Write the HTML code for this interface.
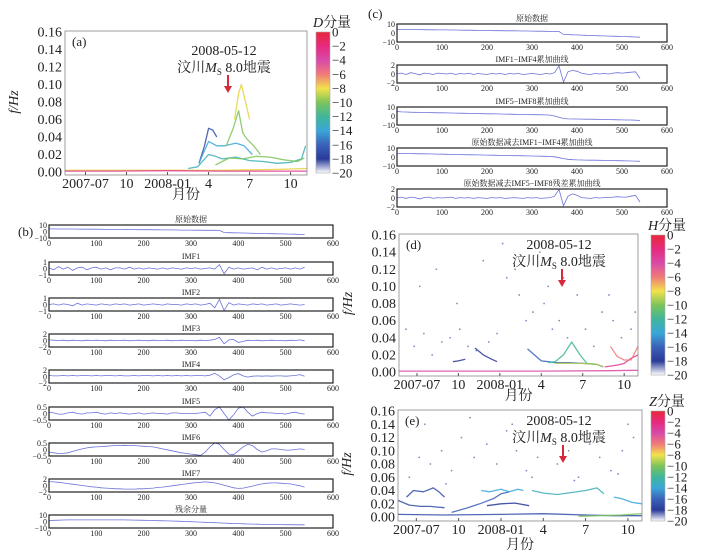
<!DOCTYPE html>
<html><head><meta charset="utf-8">
<style>
html,body{margin:0;padding:0;background:#fff;}
svg{display:block;}
text{font-family:"Liberation Serif","Noto Serif CJK SC",serif;fill:#222;}
</style></head>
<body>
<svg id="fig" width="711" height="555" viewBox="0 0 711 555" xmlns="http://www.w3.org/2000/svg">
<defs>
<linearGradient id="cmap" x1="0" y1="0" x2="0" y2="1">
<stop offset="0" stop-color="#e8283a"/>
<stop offset="0.1" stop-color="#e62a7e"/>
<stop offset="0.2" stop-color="#d84aa8"/>
<stop offset="0.3" stop-color="#f07a78"/>
<stop offset="0.4" stop-color="#f2e24a"/>
<stop offset="0.5" stop-color="#7cc45a"/>
<stop offset="0.6" stop-color="#3fb69a"/>
<stop offset="0.7" stop-color="#3aa6d8"/>
<stop offset="0.8" stop-color="#3a62b8"/>
<stop offset="0.9" stop-color="#2a3a98"/>
<stop offset="1" stop-color="#ffffff"/>
</linearGradient>
</defs>
</svg>
<script>
// ---------- data ----------
const idxStep = 10; // sample index spacing
const xTicksTS = [0,100,200,300,400,500,600];
const rawData = [4,4,3.9,3.9,3.8,3.8,3.7,3.6,3.6,3.5,3.5,3.4,3.3,3.3,3.2,3.1,3.1,3.0,2.9,2.8,2.8,2.7,2.6,2.6,2.5,2.4,2.4,2.3,2.2,2.2,2.1,2.0,2.0,1.9,1.8,1.8,1.7,-1.5,-1.8,-2,-2.1,-2.3,-2.5,-2.7,-2.9,-3.1,-3.2,-3.4,-3.6,-3.7,-3.9,-4.0,-4.2,-4.4,-4.7];
const imf1Data = [0.1,-0.2,0.3,-0.1,0.2,-0.3,0.1,0.2,-0.2,0.1,0.2,-0.1,0.1,-0.2,0.1,0.1,-0.1,0.2,-0.1,0.1,-0.1,0.1,0.0,-0.1,0.1,-0.1,0.1,0.0,-0.1,0.1,0.0,0.1,-0.1,0.0,0.1,-0.1,0.6,-0.8,0.2,-0.1,0.1,-0.1,0.0,0.1,-0.2,0.2,-0.1,0.1,-0.1,0.0,0.1,-0.1,0.1,-0.1,0.2];
const imf2Data = [0.0,0.1,-0.1,0.1,0.0,-0.2,0.2,-0.1,0.1,0.0,-0.1,0.1,0.0,-0.1,0.1,0.0,0.1,-0.1,0.0,0.1,-0.1,0.0,0.1,0.0,-0.1,0.1,0.0,0.0,-0.1,0.1,0.0,0.1,-0.1,0.0,0.2,-0.5,0.8,-0.9,0.3,-0.1,0.1,0.0,-0.1,0.1,0.0,0.1,-0.1,0.0,0.1,-0.1,0.0,0.1,0.0,-0.1,0.0];
const imf3Data = [0.2,0.1,0.0,0.1,-0.1,0.1,0.0,-0.1,0.1,0.0,0.1,0.0,-0.1,0.1,0.0,0.0,0.1,-0.1,0.0,0.1,0.0,-0.1,0.1,0.0,0.0,0.1,-0.1,0.0,0.1,0.0,0.0,-0.1,0.1,0.0,0.1,0.3,1.0,-1.0,0.2,0.3,-0.6,-0.3,0.1,0.0,0.1,-0.1,0.0,0.1,0.0,0.0,-0.1,0.1,0.0,0.2,-0.1];
const imf4Data = [0.3,0.2,0.2,0.3,0.2,0.3,0.2,0.3,0.3,0.2,0.3,0.2,0.3,0.3,0.2,0.3,0.2,0.2,0.3,0.2,0.3,0.3,0.2,0.3,0.2,0.3,0.2,0.3,0.2,0.3,0.2,0.3,0.3,0.2,0.4,1.0,0.2,-1.0,-0.3,0.5,0.9,0.2,-0.2,0.1,0.2,0.1,0.2,0.1,0.2,0.2,0.1,0.2,0.3,0.6,0.1];
const imf5Data = [0.1,0.05,-0.05,-0.05,0.05,0.1,0.0,-0.05,0.05,0.05,0.1,0.0,-0.05,0.05,0.0,0.05,0.0,-0.05,0.0,0.05,-0.05,0.0,0.05,0.0,0.0,-0.05,0.05,0.05,0.0,0.0,0.0,0.0,0.05,0.1,-0.2,0.3,0.5,0.0,-0.5,-0.1,0.4,0.5,0.1,-0.2,0.0,0.1,0.05,0.05,0.0,0.0,-0.05,0.05,0.1,0.0,-0.05];
const imf6Data = [-0.2,-0.25,-0.3,-0.3,-0.25,-0.15,-0.05,0.05,0.12,0.18,0.2,0.22,0.25,0.28,0.3,0.3,0.32,0.3,0.3,0.28,0.25,0.22,0.2,0.12,0.05,-0.02,-0.1,-0.18,-0.25,-0.3,-0.35,-0.4,-0.45,-0.2,0.2,0.5,0.4,0.0,-0.35,-0.4,-0.1,0.2,0.4,0.3,0.0,-0.2,-0.1,0.05,0.05,0.0,-0.05,-0.05,0.0,0.05,0.0];
const imf7Data = [1.2,1.1,1.0,0.8,0.6,0.4,0.2,0.0,-0.2,-0.4,-0.5,-0.7,-0.8,-0.9,-1.0,-1.0,-1.1,-1.1,-1.1,-1.0,-1.0,-0.9,-0.8,-0.6,-0.5,-0.3,-0.1,0.1,0.3,0.5,0.7,0.9,1.0,1.1,1.0,0.8,0.5,0.1,-0.3,-0.7,-0.9,-0.8,-0.5,-0.2,0.2,0.5,0.7,0.8,0.8,0.7,0.6,0.5,0.2,-0.1,-0.5];
const residData = [1.5,1.8,2.0,2.3,2.5,2.5,2.5,2.5,2.5,2.5,2.5,2.5,2.5,2.5,2.5,2.4,2.4,2.3,2.1,2.0,1.9,1.7,1.5,1.3,1.1,0.9,0.7,0.5,0.3,0.0,-0.3,-0.6,-0.9,-1.2,-1.5,-1.8,-2.1,-2.4,-2.7,-3.0,-3.3,-3.6,-3.8,-4.0,-4.2,-4.4,-4.5,-4.6,-4.7,-4.8,-4.9,-4.9,-5.0,-5.0,-5.0];
const sum14Data = [0.1,0.2,-0.1,0.3,0.1,-0.2,0.2,0.1,-0.1,0.2,0.1,0.0,0.2,-0.1,0.1,0.0,0.2,-0.1,0.1,0.0,-0.1,0.1,0.0,0.1,-0.1,0.1,0.0,0.1,-0.1,0.0,0.1,0.0,-0.1,0.1,0.0,0.3,1.8,-1.8,0.5,0.8,0.6,0.2,0.0,-0.1,0.1,0.0,0.1,0.0,0.2,0.3,0.2,0.3,0.4,0.5,-1.0];
const sum58Data = [5,4.6,4.4,4.2,4.1,4.0,3.9,3.8,3.7,3.6,3.5,3.4,3.3,3.2,3.1,3.0,2.9,2.8,2.7,2.6,2.5,2.4,2.3,2.2,2.1,2.0,1.9,1.8,1.7,1.6,1.5,1.4,1.3,1.2,1.0,0.0,-1.5,-2.8,-3.2,-3.3,-3.3,-3.4,-3.5,-3.6,-3.7,-3.8,-3.9,-4.0,-4.1,-4.2,-4.3,-4.4,-4.5,-4.7,-5.0];
const rawMinus14Data = [4,4,3.9,3.8,3.7,3.6,3.5,3.4,3.3,3.2,3.1,3.0,2.9,2.8,2.7,2.6,2.5,2.4,2.3,2.2,2.1,2.0,1.9,1.8,1.7,1.6,1.5,1.4,1.3,1.2,1.1,1.0,0.9,0.8,0.6,0.2,-0.8,-1.8,-2.6,-3.0,-3.2,-3.3,-3.4,-3.5,-3.6,-3.7,-3.8,-3.9,-4.0,-4.1,-4.2,-4.3,-4.4,-4.6,-4.8];
const rawMinus58Data = [0.0,0.2,-0.1,0.2,0.1,-0.2,0.1,0.2,-0.1,0.1,0.0,0.1,0.2,-0.1,0.1,0.0,0.1,-0.1,0.1,0.0,-0.1,0.1,0.0,0.1,-0.1,0.0,0.1,0.0,-0.1,0.1,0.0,0.1,-0.1,0.0,0.1,0.4,1.9,-1.7,0.4,0.9,0.6,0.1,0.0,-0.1,0.1,0.0,0.1,0.1,0.2,0.3,0.2,0.2,0.4,0.6,-0.9];

// spectrogram axis data
const freqTicks = [0,0.02,0.04,0.06,0.08,0.10,0.12,0.14,0.16];
const monthTickVals = [6,9,12,15,18,21];
const monthTickLabels = ["2007-07","10","2008-01","4","7","10"];
const cbarTicks = [0,-2,-4,-6,-8,-10,-12,-14,-16,-18,-20];

// panel (a) curves: months, freqs, level (dB)
const aM1 = [14.3,14.7,15.0,15.3,15.6];        const aF1 = [0.01,0.03,0.05,0.048,0.04];   const aL1 = -17;
const aM2 = [13.5,14.2,15.0,15.5,16,17,18,19,20,21,21.8,22.1]; const aF2 = [0.004,0.006,0.02,0.018,0.015,0.017,0.013,0.012,0.01,0.011,0.015,0.03]; const aL2 = -13;
const aM3 = [14.3,15.0,15.6,16.2,17.0,17.6,18.2]; const aF3 = [0.01,0.035,0.03,0.03,0.033,0.03,0.02]; const aL3 = -14;
const aM4 = [15.5,16.5,17.5,18.5,19.5,20.5,21.5,22.0]; const aF4 = [0.008,0.016,0.015,0.018,0.017,0.014,0.012,0.016]; const aL4 = -10;
const aM5 = [16.3,16.8,17.2,17.5,17.8,18.3,18.8]; const aF5 = [0.03,0.05,0.07,0.045,0.038,0.03,0.02]; const aL5 = -10;
const aM6 = [16.9,17.2,17.4,17.7,18.0]; const aF6 = [0.06,0.09,0.1,0.08,0.06]; const aL6 = -8;
const aM7 = [4.5,8,12,16,20,22.2]; const aF7 = [0.002,0.002,0.002,0.002,0.003,0.004]; const aL7 = -8;
const aM8 = [4.5,8,12,16,20,22.2]; const aF8 = [0.001,0.001,0.0015,0.001,0.001,0.001]; const aL8 = -3;

// panel (d) curves
const dM1 = [14.0,14.5,15.0,15.5,16,17,18,19,19.5]; const dF1 = [0.027,0.02,0.013,0.012,0.011,0.011,0.01,0.009,0.006]; const dL1 = -16;
const dM2 = [15.5,16,16.6,17.2,17.8,18.3,19]; const dF2 = [0.011,0.012,0.02,0.035,0.02,0.01,0.009]; const dL2 = -12;
const dM3 = [16,17,18,19,19.5]; const dF3 = [0.01,0.01,0.01,0.009,0.006]; const dL3 = -9;
const dM4 = [19.6,20.5,21,21.5,22.0]; const dF4 = [0.006,0.008,0.01,0.016,0.02]; const dL4 = -3;
const dM5 = [20.0,20.5,21,21.5,22.0]; const dF5 = [0.03,0.018,0.014,0.014,0.03]; const dL5 = -6;
const dM6 = [10.2,10.8,11.4,11.8]; const dF6 = [0.028,0.02,0.015,0.012]; const dL6 = -18;
const dM7 = [4.7,10,15,20,22]; const dF7 = [0.001,0.001,0.001,0.0015,0.002]; const dL7 = -4;
const dM8 = [8.6,9.0,9.5]; const dF8 = [0.012,0.013,0.015]; const dL8 = -18;

// panel (e) curves
const eM1 = [4.7,5.5,6.3,7.0,7.5,8.0]; const eF1 = [0.025,0.018,0.016,0.016,0.015,0.014]; const eL1 = -17;
const eM2 = [5.3,5.8,6.5,7.2,7.6,8.0]; const eF2 = [0.03,0.04,0.038,0.044,0.038,0.03]; const eL2 = -17;
const eM3 = [8.5,9.5,10.5,11.5,12,12.6]; const eF3 = [0.007,0.013,0.02,0.028,0.035,0.038]; const eL3 = -16;
const eM4 = [10.6,11.2,12.0,12.6,13.2,13.6]; const eF4 = [0.04,0.038,0.042,0.038,0.042,0.04]; const eL4 = -14;
const eM5 = [11.0,12.0,13.0,14.0]; const eF5 = [0.017,0.02,0.021,0.017]; const eL5 = -18;
const eM6 = [14.2,15,16,17,18,18.8,19.3]; const eF6 = [0.04,0.036,0.034,0.037,0.04,0.044,0.035]; const eL6 = -13;
const eM7 = [4.7,8,12,15,18,20,22]; const eF7 = [0.004,0.003,0.004,0.005,0.003,0.002,0.002]; const eL7 = -17;
const eM8 = [20.0,20.5,21.3,22.0]; const eF8 = [0.03,0.028,0.022,0.02]; const eL8 = -14;
const eM9 = [17.5,19,20.5,22]; const eF9 = [0.001,0.002,0.003,0.005]; const eL9 = -10;

// scattered points (month, freq)
const dDotsM = [5.2,5.8,6.5,7.1,7.8,8.4,9.1,9.7,10.3,11.2,11.8,12.5,13.4,13.9,14.4,15.2,15.8,16.3,16.9,17.6,18.2,18.8,19.4,20.2,20.8,21.5,6.2,8.9,10.8,13.1,14.9,16.6,18.5,21.8,7.4,12.2,15.5,19.9];
const dDotsF = [0.05,0.03,0.045,0.02,0.035,0.04,0.05,0.03,0.025,0.035,0.045,0.11,0.09,0.06,0.07,0.08,0.05,0.06,0.04,0.09,0.05,0.03,0.07,0.06,0.04,0.05,0.1,0.08,0.13,0.12,0.14,0.11,0.13,0.07,0.12,0.15,0.1,0.09];
const eDotsM = [5.5,6.2,7.0,7.8,8.5,9.2,10.1,11.0,11.7,12.4,13.1,13.8,14.6,15.3,16.0,16.8,17.5,18.3,19.0,19.8,20.6,21.4,6.6,9.8,12.8,15.9,18.9,21.0,8.1,14.2,17.2,20.3];
const eDotsF = [0.06,0.09,0.08,0.1,0.07,0.12,0.09,0.11,0.08,0.13,0.1,0.07,0.09,0.12,0.08,0.1,0.06,0.11,0.09,0.07,0.1,0.12,0.14,0.15,0.14,0.15,0.13,0.14,0.05,0.06,0.055,0.065];

// ---------- drawing ----------
const NS = "http://www.w3.org/2000/svg";
const svg = document.getElementById("fig");
function mk(tag, attrs, parent){
  const e = document.createElementNS(NS, tag);
  for (const k in attrs) e.setAttribute(k, attrs[k]);
  (parent || svg).appendChild(e);
  return e;
}
function txt(s, x, y, size, anchor, parent){
  const t = mk("text", {x:x, y:y, "font-size":size, "text-anchor":anchor||"start"}, parent);
  t.textContent = s;
  return t;
}
function levelColor(l){
  const stops = [[0,[232,40,58]],[-2,[230,42,126]],[-4,[216,74,168]],[-6,[240,122,120]],[-8,[230,210,60]],[-10,[124,196,90]],[-12,[63,182,154]],[-14,[58,166,216]],[-16,[58,98,184]],[-18,[42,58,152]],[-20,[200,200,230]]];
  for (let i=0;i<stops.length-1;i++){
    const a=stops[i], b=stops[i+1];
    if (l<=a[0] && l>=b[0]){
      const t=(a[0]-l)/(a[0]-b[0]);
      const c=a[1].map((v,j)=>Math.round(v+(b[1][j]-v)*t));
      return "rgb("+c.join(",")+")";
    }
  }
  return "#888";
}

// time-series panel
function tsPanel(box, yMin, yMax, yLabels, data, title, name){
  const g = mk("g", {});
  
  
  const xS = v => box.x0 + (v/600)*(box.x1-box.x0);
  const yS = v => box.y1 - (v-yMin)/(yMax-yMin)*(box.y1-box.y0);
  const tt = txt(title, (box.x0+box.x1)/2, box.y0-3, 8, "middle", g);
  
  
  const pts = data.map((v,i)=> xS(i*idxStep).toFixed(1)+","+yS(v).toFixed(1)).join(" ");
  const pl = mk("polyline", {points:pts, fill:"none", stroke:"#6a72d8", "stroke-width":0.8}, g);
  
  
  const fr = mk("rect", {x:box.x0, y:box.y0, width:box.x1-box.x0, height:box.y1-box.y0, fill:"none", stroke:"#222", "stroke-width":1.2}, g);
  
  
  xTicksTS.forEach(v=>{
    const t = txt(String(v), xS(v), box.y1+8, 8, "middle", g);
    
    
  });
  const ys = [yMax, 0, yMin];
  yLabels.forEach((s,i)=>{
    const t = txt(s, box.x0-2, yS(ys[i])+3, 8, "end", g);
    
    
  });
}

// panel (b)
const bX0 = 49, bX1 = 333, bH = 13;
const bTops = [225,262,298,334,370,407,443,479,515];
tsPanel({x0:bX0,x1:bX1,y0:bTops[0],y1:bTops[0]+bH}, -10,10,["10","0","−10"], rawData, "原始数据", "b-raw");
tsPanel({x0:bX0,x1:bX1,y0:bTops[1],y1:bTops[1]+bH}, -1,1,["1","0","−1"], imf1Data, "IMF1", "b-imf1");
tsPanel({x0:bX0,x1:bX1,y0:bTops[2],y1:bTops[2]+bH}, -1,1,["1","0","−1"], imf2Data, "IMF2", "b-imf2");
tsPanel({x0:bX0,x1:bX1,y0:bTops[3],y1:bTops[3]+bH}, -2,2,["2","0","−2"], imf3Data, "IMF3", "b-imf3");
tsPanel({x0:bX0,x1:bX1,y0:bTops[4],y1:bTops[4]+bH}, -2,2,["2","0","−2"], imf4Data, "IMF4", "b-imf4");
tsPanel({x0:bX0,x1:bX1,y0:bTops[5],y1:bTops[5]+bH}, -0.5,0.5,["0.5","0","−0.5"], imf5Data, "IMF5", "b-imf5");
tsPanel({x0:bX0,x1:bX1,y0:bTops[6],y1:bTops[6]+bH}, -0.5,0.5,["0.5","0","−0.5"], imf6Data, "IMF6", "b-imf6");
tsPanel({x0:bX0,x1:bX1,y0:bTops[7],y1:bTops[7]+bH}, -2,2,["2","0","−2"], imf7Data, "IMF7", "b-imf7");
tsPanel({x0:bX0,x1:bX1,y0:bTops[8],y1:bTops[8]+bH}, -10,10,["10","0","−10"], residData, "残余分量", "b-residual");

// panel (c)
const cX0 = 397, cX1 = 667, cH = 18;
const cTops = [24,65,107,148,189];
tsPanel({x0:cX0,x1:cX1,y0:cTops[0],y1:cTops[0]+cH}, -10,10,["10","0","−10"], rawData, "原始数据", "c-raw");
tsPanel({x0:cX0,x1:cX1,y0:cTops[1],y1:cTops[1]+cH}, -2,2,["2","0","−2"], sum14Data, "IMF1−IMF4累加曲线", "c-imf1-4");
tsPanel({x0:cX0,x1:cX1,y0:cTops[2],y1:cTops[2]+cH}, -10,10,["10","0","−10"], sum58Data, "IMF5−IMF8累加曲线", "c-imf5-8");
tsPanel({x0:cX0,x1:cX1,y0:cTops[3],y1:cTops[3]+cH}, -10,10,["10","0","−10"], rawMinus14Data, "原始数据减去IMF1−IMF4累加曲线", "c-raw-minus-1-4");
tsPanel({x0:cX0,x1:cX1,y0:cTops[4],y1:cTops[4]+cH}, -2,2,["2","0","−2"], rawMinus58Data, "原始数据减去IMF5−IMF8残差累加曲线", "c-raw-minus-5-8");

// spectrogram panel
function specPanel(o){
  const g = mk("g", {});
  
  
  const xS = m => o.x0 + (m-o.m0)/(o.m1-o.m0)*(o.x1-o.x0);
  const yS = f => o.yZero - f/0.16*(o.yZero-o.yTop);
  const bg = mk("rect", {x:o.x0, y:o.yTop-1, width:o.x1-o.x0, height:o.yBot-o.yTop+1, fill:"#ffffff"}, g);
  
  
  (o.dotsM||[]).forEach((m,i)=>{
    const c = mk("circle", {cx:xS(m), cy:yS(o.dotsF[i]), r:0.9, fill:"#8a88c0"}, g);
    
    
  });
  o.curves.forEach((c,ci)=>{
    const pts = c[0].map((m,i)=> xS(m).toFixed(1)+","+yS(c[1][i]).toFixed(1)).join(" ");
    const pl = mk("polyline", {points:pts, fill:"none", stroke:levelColor(c[2]), "stroke-width":1.3, "stroke-opacity":0.85, "stroke-linejoin":"round"}, g);
    
    
  });
  const fr = mk("rect", {x:o.x0, y:o.yTop-1, width:o.x1-o.x0, height:o.yBot-o.yTop+1, fill:"none", stroke:"#888", "stroke-width":0.8}, g);
  
  
  freqTicks.forEach(f=>{
    const t = txt(f.toFixed(2), o.x0-3, yS(f)+4.5, 14, "end", g);
    
    
  });
  monthTickVals.forEach((m,i)=>{
    const tk = mk("line", {x1:xS(m), x2:xS(m), y1:o.yBot, y2:o.yBot-3, stroke:"#555"}, g);
    
    
    const t = txt(monthTickLabels[i], xS(m), o.yBot+13, 14, "middle", g);
    
    
  });
  const xl = txt("月份", (o.x0+o.x1)/2, o.xLabelY, 14, "middle", g);
  
  
  const yl = mk("text", {x:0, y:0, "font-size":14, "text-anchor":"middle", "font-style":"italic", transform:"translate("+(o.x0-47)+","+((o.yTop+o.yZero)/2)+") rotate(-90)"}, g);
  yl.textContent = "f/Hz";
  
  
  const pl = txt(o.tag, o.x0+7, o.yTop+14, 13, "start", g);
  
  
  const a1 = txt("2008-05-12", o.annX, o.annY, 14, "middle", g);
  
  
  const a2 = mk("text", {x:o.annX, y:o.annY+17, "font-size":14, "text-anchor":"middle"}, g);
  a2.innerHTML = '汶川<tspan font-style="italic">M</tspan><tspan font-size="9" dy="3">S</tspan><tspan dy="-3"> 8.0地震</tspan>';
  
  
  const ar = mk("line", {x1:o.arrX, x2:o.arrX, y1:o.annY+20, y2:o.annY+33, stroke:"#d8283c", "stroke-width":2}, g);
  
  
  const ah = mk("polygon", {points:(o.arrX-4)+","+(o.annY+31)+" "+(o.arrX+4)+","+(o.annY+31)+" "+o.arrX+","+(o.annY+38), fill:"#d8283c"}, g);
  
  
  const cb = mk("rect", {x:o.cbX, y:o.yTop, width:14, height:o.cbBot-o.yTop, fill:"url(#cmap)", stroke:"#aaa", "stroke-width":0.6}, g);
  
  
  cbarTicks.forEach((v,i)=>{
    const y = o.yTop + (i/(cbarTicks.length-1))*(o.cbBot-o.yTop);
    const t = txt(v===0?"0":"−"+(-v), o.cbX+16, y+4.5, 13, "start", g);
    
    
  });
  const ct = mk("text", {x:o.cbX+16, y:o.yTop-5, "font-size":14, "text-anchor":"middle"}, g);
  ct.innerHTML = '<tspan font-style="italic">'+o.comp+'</tspan>分量';
  
  
}

specPanel({name:"panel-a-spectrogram", tag:"(a)", comp:"D", x0:65, x1:307, m0:4.5, m1:22.2, yTop:32, yZero:172, yBot:175, xLabelY:199,
  annX:224, annY:55, arrX:228, cbX:316, cbBot:173,
  curves:[[aM7,aF7,aL7],[aM8,aF8,aL8],[aM1,aF1,aL1],[aM2,aF2,aL2],[aM3,aF3,aL3],[aM4,aF4,aL4],[aM5,aF5,aL5],[aM6,aF6,aL6]]});
specPanel({name:"panel-d-spectrogram", tag:"(d)", comp:"H", x0:399, x1:638, m0:4.7, m1:22.0, yTop:235, yZero:372, yBot:376, xLabelY:400,
  annX:559, annY:249, arrX:562, cbX:651, cbBot:375, dotsM:dDotsM, dotsF:dDotsF,
  curves:[[dM7,dF7,dL7],[dM6,dF6,dL6],[dM8,dF8,dL8],[dM1,dF1,dL1],[dM2,dF2,dL2],[dM3,dF3,dL3],[dM4,dF4,dL4],[dM5,dF5,dL5]]});
specPanel({name:"panel-e-spectrogram", tag:"(e)", comp:"Z", x0:398, x1:642, m0:4.7, m1:22.0, yTop:411, yZero:517, yBot:521, xLabelY:549,
  annX:559, annY:425, arrX:563, cbX:651, cbBot:521, dotsM:eDotsM, dotsF:eDotsF,
  curves:[[eM7,eF7,eL7],[eM9,eF9,eL9],[eM1,eF1,eL1],[eM2,eF2,eL2],[eM3,eF3,eL3],[eM4,eF4,eL4],[eM5,eF5,eL5],[eM6,eF6,eL6],[eM8,eF8,eL8]]});

const lb = txt("(b)", 18, 236, 13, "start");


const lc = txt("(c)", 368, 18, 13, "start");


</script>
</body></html>
